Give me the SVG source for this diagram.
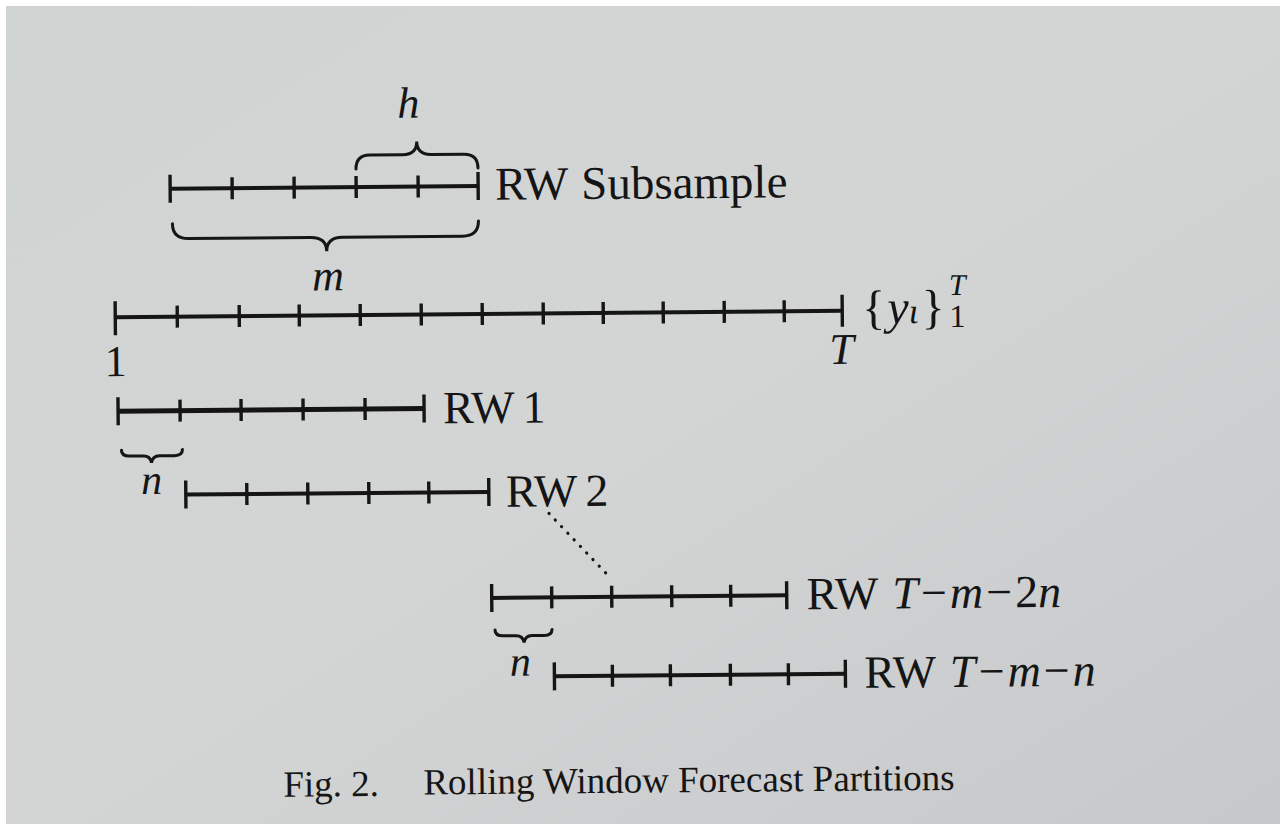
<svg xmlns="http://www.w3.org/2000/svg" width="1280" height="824" viewBox="0 0 1280 824">
<defs>
<linearGradient id="bg" x1="0" y1="0" x2="1" y2="1">
<stop offset="0" stop-color="#d0d4d3"/>
<stop offset="0.5" stop-color="#d3d5d5"/>
<stop offset="1" stop-color="#c7c8ca"/>
</linearGradient>
<style>
.ax{stroke:#151515;stroke-width:4;fill:none;stroke-linecap:butt}
.tk{stroke:#151515;stroke-width:3.4;fill:none}
.br{stroke:#151515;stroke-width:3;fill:none;stroke-linecap:round}
.t{font-family:"Liberation Serif","Times New Roman",serif;fill:#151515}
.i{font-style:italic}
.dot{stroke:#151515;stroke-width:3.2;stroke-linecap:round;stroke-dasharray:0.1 9;fill:none}
</style>
</defs>
<rect x="0" y="0" width="1280" height="824" fill="#ffffff"/>
<rect x="6" y="6" width="1274" height="818" fill="url(#bg)"/>
<g transform="rotate(-0.5 480 400)">
<g id="subsample">
<line class="ax" x1="172" y1="186" x2="480" y2="186"/>
<path class="tk" d="M172 172V200M234 175V197M296 175V197M358 175V197M420 175V197M480 172V200"/>
<text class="t" x="497" y="200" font-size="47">RW</text>
<text class="t" x="583" y="200" font-size="47">Subsample</text>
</g>
<g id="brace-h">
<path class="br" d="M358 168Q358 154 372 154L405 154Q419 154 419 141Q419 154 433 154L466 154Q480 154 480 168"/>
<text class="t i" x="411" y="117" font-size="44" text-anchor="middle">h</text>
</g>
<g id="brace-m">
<path class="br" d="M174 221Q174 236 190 236L312 236Q328 236 328 250Q328 236 344 236L464 236Q480 236 480 221"/>
<text class="t i" x="329" y="289" font-size="44" text-anchor="middle">m</text>
</g>
<g id="series">
<line class="ax" x1="116" y1="314" x2="843" y2="314"/>
<path class="tk" d="M116 298V332M178 303V325M240 303V325M300 303V325M361 303V325M422 303V325M483 303V325M544 303V325M604 303V325M664 303V325M725 303V325M785 303V325M843 298V330"/>
<text class="t" x="116" y="373" font-size="44" text-anchor="middle">1</text>
<text class="t i" x="842" y="367" font-size="44" text-anchor="middle">T</text>
<text class="t" x="863" y="327" font-size="48">{<tspan class="i" dx="2">y</tspan><tspan class="i" font-size="36">ι</tspan><tspan dx="3">}</tspan></text>
<text class="t i" x="950" y="299" font-size="30">T</text>
<text class="t" x="950" y="331" font-size="32">1</text>
</g>
<g id="rw1">
<line class="ax" x1="118" y1="408" x2="424" y2="408" style="stroke-width:5"/>
<path class="tk" d="M118 394V422M180 397V419M241 397V419M303 397V419M365 397V419M424 394V422"/>
<text class="t" x="443" y="423" font-size="46">RW<tspan dx="8">1</tspan></text>
</g>
<g id="brace-n1">
<path class="br" d="M121 447Q121 453 129 453L143 453Q150 453 151 460Q152 453 159 453L174 453Q182 453 182 447"/>
<text class="t i" x="151" y="491" font-size="42" text-anchor="middle">n</text>
</g>
<g id="rw2">
<line class="ax" x1="185" y1="492" x2="488" y2="492"/>
<path class="tk" d="M185 478V506M246 481V503M307 481V503M368 481V503M428 481V503M488 478V506"/>
<text class="t" x="505" y="507" font-size="46">RW<tspan dx="8">2</tspan></text>
</g>
<g id="connectors">
<path class="dot" d="M548 514L607 577"/>
</g>
<g id="rw-t-m-2n">
<line class="ax" x1="490" y1="598" x2="785" y2="598"/>
<path class="tk" d="M490 584V612M550 587V609M610 587V609M670 587V609M729 587V609M785 584V612"/>
<text class="t" x="805" y="612" font-size="46">RW<tspan class="i" dx="14">T</tspan><tspan dx="3">−</tspan><tspan class="i" dx="3">m</tspan><tspan dx="3">−</tspan><tspan dx="3">2</tspan><tspan class="i">n</tspan></text>
</g>
<g id="brace-n2">
<path class="br" d="M493 630Q493 636 501 636L514 636Q521 636 522 643Q523 636 530 636L542 636Q550 636 550 630"/>
<text class="t i" x="518" y="676" font-size="42" text-anchor="middle">n</text>
</g>
<g id="rw-t-m-n">
<line class="ax" x1="552" y1="677" x2="843" y2="677"/>
<path class="tk" d="M552 663V691M610 666V688M668 666V688M728 666V688M786 666V688M843 663V691"/>
<text class="t" x="862" y="691" font-size="46">RW<tspan class="i" dx="14">T</tspan><tspan dx="3">−</tspan><tspan class="i" dx="3">m</tspan><tspan dx="3">−</tspan><tspan class="i" dx="3">n</tspan></text>
</g>
<g id="caption">
<text class="t" x="280" y="795" font-size="37">Fig. 2.</text>
<text class="t" x="420" y="794" font-size="37">Rolling Window Forecast Partitions</text>
</g>
</g>
</svg>
